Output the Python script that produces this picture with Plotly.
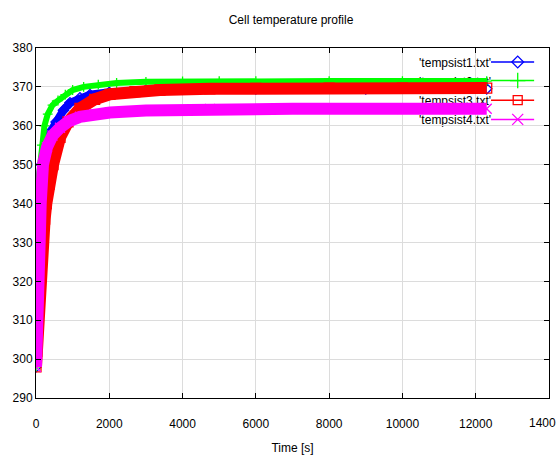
import plotly.graph_objects as go

# ---- data ----
t1 = [0, 10, 20, 35, 55, 90, 150, 250, 400, 550, 750, 927, 1200, 1473, 2000, 3000, 4000, 6000, 9000, 12300]
v1 = [298, 308, 318, 328, 340, 345, 350, 355, 358.5, 361, 364, 365.9, 367.2, 368.0, 368.6, 369.2, 369.4, 369.5, 369.5, 369.5]

t2 = [0, 10, 20, 40, 70, 110, 160, 230, 320, 450, 600, 800, 1000, 1300, 1700, 2200, 3000, 4000, 5000, 6000, 8000, 10000, 12300]
v2 = [298, 320, 336, 341, 346, 350, 355, 360, 363, 365.3, 366.5, 368, 369.2, 370.0, 370.6, 371.0, 371.3, 371.4, 371.5, 371.5, 371.5, 371.5, 371.5]

t3 = [0, 20, 55, 100, 164, 236, 282, 360, 464, 655, 873, 1200, 1600, 2018, 2700, 3382, 4745, 6000, 8000, 10000, 12300]
v3 = [298, 302, 310, 320, 330, 336, 340, 345, 350, 357, 361, 364.5, 366.8, 368.1, 368.8, 369.2, 369.5, 369.6, 369.7, 369.7, 369.7]

t4 = [0, 10, 36, 100, 128, 190, 300, 450, 655, 900, 1200, 1600, 2018, 3000, 4745, 7000, 10000, 12300]
v4 = [298, 310, 320, 330, 340, 350, 354.5, 357.5, 359.5, 361.2, 362.3, 363, 363.4, 363.9, 364.3, 364.4, 364.4, 364.4]

names = ["'tempsist1.txt'", "'tempsist2.txt'", "'tempsist3.txt'", "'tempsist4.txt'"]
colors = ["#0000ff", "#00ff00", "#ff0000", "#ff00ff"]
symbols = ["diamond-open", "cross-thin", "square-open", "x-thin"]
band = [8, 6, 12, 12]
msize = [8, 7, 10, 10]
key_msize = [9, 11, 9, 11]

x_ticks = [0, 2000, 4000, 6000, 8000, 10000, 12000, 14000]
x_ticklabels = ["0", "2000", "4000", "6000", "8000", "10000", "12000", ""]
edge_label = "1400"   # the last x tick label, cut at the picture's right edge
y_ticks = [290, 300, 310, 320, 330, 340, 350, 360, 370, 380]

FONT = "Liberation Sans, Arial, sans-serif"
FS = 12

fig = go.Figure()
series = [(t1, v1), (t2, v2), (t3, v3), (t4, v4)]
for i, (t, v) in enumerate(series):
    fig.add_trace(go.Scatter(
        x=t, y=v, mode="lines+markers", name=names[i], showlegend=False,
        line=dict(color=colors[i], width=band[i]),
        marker=dict(symbol=symbols[i], size=msize[i], color=colors[i], line=dict(width=1.3, color=colors[i])),
    ))

# gnuplot-style key: text on the left, sample line + marker on the right
key_y = [0.960, 0.907, 0.851, 0.796]
kx0, kx1, kxm = 0.887, 0.971, 0.939
for i in range(4):
    fig.add_shape(type="line", xref="x domain", yref="y domain",
                  x0=kx0, x1=kx1, y0=key_y[i], y1=key_y[i],
                  line=dict(color=colors[i], width=1.5), layer="below",
                  label=dict(text=names[i], textposition="start", xanchor="right",
                             yanchor="middle", padding=3,
                             font=dict(family=FONT, size=FS, color="black")))
    fig.add_trace(go.Scatter(
        x=[kxm], y=[key_y[i]], mode="markers", xaxis="x2", yaxis="y2", showlegend=False,
        marker=dict(symbol=symbols[i], size=key_msize[i], color=colors[i], line=dict(width=1.3, color=colors[i])),
        hoverinfo="skip"))

fig.add_annotation(text=edge_label, xref="paper", yref="paper", x=1 + 9 / 512, y=0,
                   xanchor="right", yanchor="middle", yshift=-25, showarrow=False,
                   font=dict(family=FONT, size=FS, color="black"))

fig.update_layout(
    width=558, height=455,
    margin=dict(l=36, r=9, t=48, b=57, autoexpand=False),
    paper_bgcolor="white", plot_bgcolor="white",
    font=dict(family=FONT, size=FS, color="black"),
    title=dict(text="Cell temperature profile", x=291 / 558, xanchor="center", y=1 - 20 / 455, yanchor="middle",
               font=dict(family=FONT, size=FS, color="black")),
    xaxis=dict(range=[0, 14000], tickvals=x_ticks, ticktext=x_ticklabels, automargin=False,
               ticklabelstandoff=15,
               showgrid=True, gridcolor="#dcdcdc", gridwidth=1,
               ticks="inside", ticklen=5, tickcolor="black", mirror="ticks",
               showline=True, linecolor="black", linewidth=1, zeroline=False,
               tickfont=dict(family=FONT, size=FS),
               title=dict(text="Time [s]", standoff=13, font=dict(family=FONT, size=FS))),
    yaxis=dict(range=[290, 380], tickvals=y_ticks, automargin=False,
               showgrid=True, gridcolor="#dcdcdc", gridwidth=1,
               ticks="inside", ticklen=5, tickcolor="black", mirror="ticks",
               showline=True, linecolor="black", linewidth=1, zeroline=False,
               tickfont=dict(family=FONT, size=FS)),
    xaxis2=dict(overlaying="x", range=[0, 1], visible=False, fixedrange=True),
    yaxis2=dict(overlaying="y", range=[0, 1], visible=False, fixedrange=True),
)

fig.write_html("out.html", config={"displayModeBar": False},
               post_script="document.body.style.margin='0';document.body.style.overflow='hidden';")
